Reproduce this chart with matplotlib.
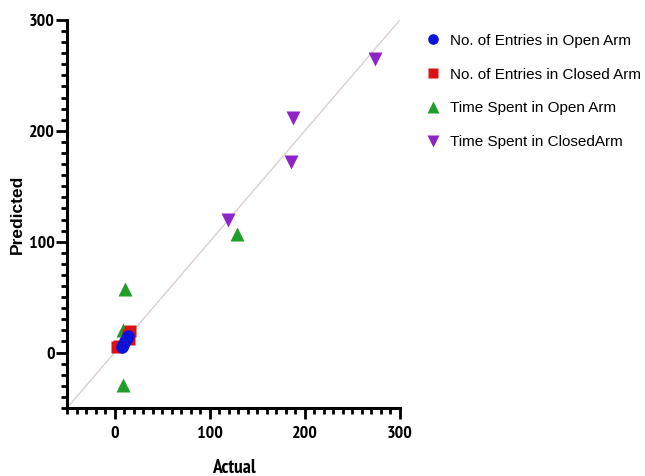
import matplotlib
matplotlib.use("Agg")
import matplotlib.pyplot as plt
from matplotlib.ticker import MultipleLocator

# Actual vs predicted values for each behavioural measure
entries_open_actual = [8, 9, 11, 13, 14]
entries_open_pred = [5, 7, 10, 13, 15]

entries_closed_actual = [3, 5, 14, 15, 16]
entries_closed_pred = [5, 6, 16, 12, 19]

time_open_actual = [9, 8.5, 11, 129]
time_open_pred = [-29, 20, 57, 107]

time_closed_actual = [119.5, 186, 188, 274]
time_closed_pred = [119.5, 172, 212, 265]

series_labels = [
    "No. of Entries in Open Arm",
    "No. of Entries in Closed Arm",
    "Time Spent in Open Arm",
    "Time Spent in ClosedArm",
]

x_limits = [-50, 300]
y_limits = [-50, 300]
major_ticks = [0, 100, 200, 300]

axis_font = ["PT Sans Narrow", "Roboto Condensed", "Liberation Sans", "DejaVu Sans"]
wide_font = ["Liberation Sans", "DejaVu Sans"]

fig = plt.figure(figsize=(6.45, 4.76), dpi=100)
ax = fig.add_axes([0.104, 0.143, 0.516, 0.815])

# identity line
ax.plot(x_limits, y_limits, color="#d9cfd4", lw=1.0, zorder=1)

ax.plot(time_closed_actual, time_closed_pred, "v", color="#8e24c8", ms=10,
        mec="none", label=series_labels[3], zorder=3)
ax.plot(time_open_actual, time_open_pred, "^", color="#1f9e2a", ms=10,
        mec="none", label=series_labels[2], zorder=3)
ax.plot(entries_closed_actual, entries_closed_pred, "s", color="#dd1111", ms=9,
        mec="none", label=series_labels[1], zorder=4)
ax.plot(entries_open_actual, entries_open_pred, "o", color="#0a14d8", ms=9,
        mec="none", label=series_labels[0], zorder=5)

ax.set_xlim(x_limits)
ax.set_ylim(y_limits)
ax.set_xticks(major_ticks)
ax.set_yticks(major_ticks)
ax.xaxis.set_minor_locator(MultipleLocator(10))
ax.yaxis.set_minor_locator(MultipleLocator(10))

for side in ("top", "right"):
    ax.spines[side].set_visible(False)
for side in ("left", "bottom"):
    ax.spines[side].set_linewidth(2.2)

ax.tick_params(which="major", length=8, width=2, direction="out")
ax.tick_params(which="minor", length=4, width=2, direction="out")
ax.tick_params(axis="x", which="major", pad=5)
ax.tick_params(axis="y", which="major", pad=1)
for lbl in ax.get_xticklabels() + ax.get_yticklabels():
    lbl.set_fontfamily(axis_font)
    lbl.set_fontweight("bold")
    lbl.set_fontsize(13)

ax.set_xlabel("Actual", fontfamily=axis_font, fontweight="bold", fontsize=14)
ax.xaxis.set_label_coords(0.5, -0.132)
ax.set_ylabel("Predicted", fontfamily=wide_font, fontweight="bold", fontsize=12.5)
ax.yaxis.set_label_coords(-0.126, 0.5)

handles, labels = ax.get_legend_handles_labels()
order = [labels.index(s) for s in series_labels]
ax.legend([handles[i] for i in order], [labels[i] for i in order],
          loc="upper left", bbox_to_anchor=(1.03, 1.0), frameon=False,
          prop={"family": wide_font, "size": 11}, handletextpad=0.5,
          labelspacing=1.3, handlelength=1.2, numpoints=1, markerscale=0.85)

fig.savefig("out.png", dpi=100)
